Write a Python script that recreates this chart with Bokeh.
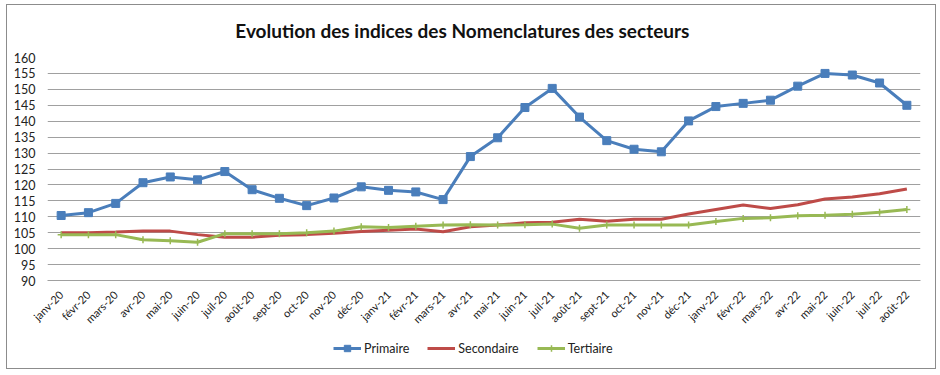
from math import pi
from bokeh.plotting import figure
from bokeh.layouts import column
from bokeh.models import FactorRange, Range1d, Legend, LegendItem, ColumnDataSource, FixedTicker, Label
from bokeh.embed import file_html
from bokeh.resources import INLINE

mois = ["janv-20", "févr-20", "mars-20", "avr-20", "mai-20", "juin-20", "juil-20", "août-20",
        "sept-20", "oct-20", "nov-20", "déc-20", "janv-21", "févr-21", "mars-21", "avr-21",
        "mai-21", "juin-21", "juil-21", "août-21", "sept-21", "oct-21", "nov-21", "déc-21",
        "janv-22", "févr-22", "mars-22", "avr-22", "mai-22", "juin-22", "juil-22", "août-22"]

primaire = [110.4, 111.3, 114.2, 120.7, 122.5, 121.6, 124.2, 118.5,
            115.8, 113.5, 115.9, 119.4, 118.3, 117.8, 115.4, 128.9,
            134.8, 144.3, 150.3, 141.3, 133.9, 131.2, 130.4, 140.1,
            144.6, 145.6, 146.6, 151.0, 155.0, 154.5, 152.0, 145.0]

secondaire = [105.0, 105.0, 105.2, 105.5, 105.5, 104.4, 103.6, 103.6,
              104.2, 104.4, 104.8, 105.4, 105.8, 106.2, 105.3, 106.9,
              107.4, 108.1, 108.3, 109.2, 108.6, 109.2, 109.2, 110.9,
              112.3, 113.7, 112.6, 113.8, 115.6, 116.2, 117.2, 118.7]

tertiaire = [104.4, 104.4, 104.4, 102.8, 102.5, 102.0, 104.7, 104.7,
             104.7, 105.0, 105.5, 106.9, 106.6, 107.0, 107.4, 107.5,
             107.4, 107.5, 107.7, 106.4, 107.4, 107.4, 107.4, 107.4,
             108.5, 109.5, 109.7, 110.3, 110.5, 110.8, 111.4, 112.3]

series = ["Primaire", "Secondaire", "Tertiaire"]
y_ticks = list(range(90, 161, 5))
titre = "Evolution des indices des Nomenclatures des secteurs"

FONT = "Lato"
BLUE = "#4a7ebb"
RED = "#be4b48"
GREEN = "#98b954"
GRID = "#a0a0a0"
TXT = "#222222"
W = 928

src = ColumnDataSource(dict(x=mois, p=primaire, s=secondaire, t=tertiaire))


def draw(fig):
    lp = fig.line("x", "p", source=src, line_color=BLUE, line_width=3)
    mp = fig.scatter("x", "p", source=src, marker="square", size=8, fill_color=BLUE, line_color=BLUE)
    ls = fig.line("x", "s", source=src, line_color=RED, line_width=3)
    lt = fig.line("x", "t", source=src, line_color=GREEN, line_width=3)
    mt = fig.scatter("x", "t", source=src, marker="cross", size=7, line_color=GREEN, line_width=1.5)
    return [[lp, mp], [ls], [lt, mt]]


def bare(h, xr, yr):
    f = figure(width=W, height=h, x_range=xr, y_range=yr, output_backend="svg",
               toolbar_location=None, x_axis_type=None, y_axis_type=None,
               min_border_left=0, min_border_right=0, min_border_top=0, min_border_bottom=0)
    f.outline_line_color = None
    f.grid.visible = False
    f.background_fill_color = None
    f.border_fill_color = "white"
    return f


# ---- title strip ----
tf = bare(44, Range1d(0, W), Range1d(0, 44))
tf.add_layout(Label(x=441, y=19, text=titre, text_align="center", text_baseline="middle",
                    text_font=FONT, text_font_style="bold", text_font_size="19px",
                    text_color="#111111"))

# ---- main chart ----
p = figure(width=W, height=284, x_range=FactorRange(*mois), y_range=Range1d(90, 160),
           output_backend="svg", toolbar_location=None,
           min_border_left=40, min_border_right=15, min_border_top=8, min_border_bottom=52)
p.outline_line_color = None
p.background_fill_color = None
p.border_fill_color = "white"

p.xgrid.grid_line_color = None
yt = FixedTicker(ticks=y_ticks)
p.yaxis.ticker = yt
p.ygrid.ticker = yt
p.ygrid.grid_line_color = GRID
p.ygrid.grid_line_width = 1
p.ygrid.level = "image"

p.yaxis.axis_line_color = None
p.yaxis.major_tick_line_color = None
p.yaxis.minor_tick_line_color = None
p.yaxis.major_label_text_font = FONT
p.yaxis.major_label_text_font_size = "12.5px"
p.yaxis.major_label_text_color = TXT
p.yaxis.major_label_standoff = 6

p.xaxis.axis_line_color = GRID
p.xaxis.major_tick_line_color = None
p.xaxis.minor_tick_line_color = None
p.xaxis.major_label_orientation = pi / 4
p.xaxis.major_label_text_font = FONT
p.xaxis.major_label_text_font_size = "11px"
p.xaxis.major_label_text_color = TXT
p.xaxis.major_label_standoff = 6

draw(p)

# ---- legend strip (same series; data lies outside its view, only the legend shows) ----
lg = bare(35, FactorRange(*mois), Range1d(0, 1))
rends = draw(lg)
legend = Legend(items=[LegendItem(label=n, renderers=r) for n, r in zip(series, rends)],
                orientation="horizontal", location=(286, 12),
                glyph_width=28, glyph_height=16, label_height=16, label_standoff=3,
                spacing=18, padding=0, margin=0,
                label_text_font=FONT, label_text_font_size="12.5px", label_text_color=TXT,
                border_line_color=None, background_fill_alpha=0)
lg.add_layout(legend, "center")

layout = column(tf, p, lg, spacing=0,
                styles={"border": "1px solid #8c8c8c", "margin-left": "6px", "margin-top": "4px"})

open("out.html", "w").write(file_html(layout, INLINE))
